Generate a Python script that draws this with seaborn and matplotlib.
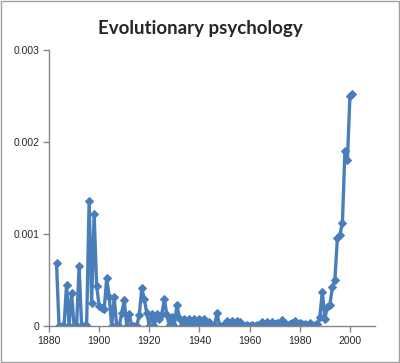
import numpy as np
import pandas as pd
import matplotlib
matplotlib.use("Agg")
import matplotlib.pyplot as plt
import seaborn as sns
from matplotlib.patches import Rectangle

# yearly relative frequency
years = list(range(1883, 2002))
freq = [
    # 1883-1899
    0.00068, 0, 0, 0, 0.00045, 0, 0.00036, 0, 0, 0.00065,
    0, 0, 0, 0.00136, 0.00025, 0.00122, 0.00043,
    # 1900-1919
    0.00022, 0.00020, 0.00018, 0.00052, 0.00032, 0, 0.00031, 0, 0, 0.00014,
    0.00028, 0, 0.00013, 0, 0, 0, 0.00012, 0.00041, 0.00029, 0.00014,
    # 1920-1939
    0, 0.00013, 0, 0.00013, 0.00008, 0.00013, 0.00029, 0.00012, 0, 0.00010,
    0, 0.00023, 0.00009, 0, 0.00008, 0, 0.00008, 0, 0.00008, 0,
    # 1940-1959
    0.00008, 0, 0.00008, 0, 0.00004, 0, 0, 0.00014, 0, 0,
    0.00002, 0.00005, 0.00002, 0.00005, 0.00002, 0.00005, 0.00004, 0.00001, 0, 0.00001,
    # 1960-1979
    0, 0.00001, 0, 0.00001, 0.00001, 0.00004, 0.00002, 0.00004, 0.00002, 0.00004,
    0.00002, 0.00003, 0.00003, 0.00006, 0.00003, 0.00001, 0.00002, 0.00003, 0.00005, 0.00002,
    # 1980-2001
    0.00003, 0.00002, 0.00002, 0.00001, 0.00003, 0.00001, 0.00001, 0.00002, 0.00010, 0.00037,
    0.00008, 0.00021, 0.00023, 0.00042, 0.00050, 0.00096, 0.00099, 0.00112, 0.00190, 0.00180,
    0.00250, 0.00252,
]
xticks = [1880, 1900, 1920, 1940, 1960, 1980, 2000]
yticks = [0, 0.001, 0.002, 0.003]
ytick_labels = ["0", "0.001", "0.002", "0.003"]

df = pd.DataFrame({"year": years, "freq": freq})

sns.set_theme(style="white")
plt.rcParams["font.family"] = ["Liberation Sans", "DejaVu Sans"]

fig = plt.figure(figsize=(4.0, 3.63), dpi=100)
ax = fig.add_axes([0.1225, 0.102, 0.815, 0.760])

sns.lineplot(data=df, x="year", y="freq", ax=ax, color="#4a7ebb",
             linewidth=2.4, marker="D", markersize=4.5,
             markeredgecolor="#4a7ebb", markerfacecolor="#4a7ebb")

ax.set_xlim(1880, 2010)
ax.set_ylim(0, 0.003)
ax.set_xticks(xticks)
ax.set_xticklabels([str(t) for t in xticks], fontsize=7.5)
ax.set_yticks(yticks)
ax.set_yticklabels(ytick_labels, fontsize=7.5)
ax.set_xlabel("")
ax.set_ylabel("")

for side in ["top", "right"]:
    ax.spines[side].set_visible(False)
for side in ["left", "bottom"]:
    ax.spines[side].set_color("#868686")
    ax.spines[side].set_linewidth(1.0)
ax.tick_params(axis="both", which="both", direction="out", length=4,
               width=1.0, color="#868686", pad=3, left=True, bottom=True)

fig.text(0.5, 0.922, "Evolutionary psychology", ha="center", va="center",
         fontsize=13.5, fontweight="bold", family=["Lato", "DejaVu Sans"])

fig.patches.append(Rectangle((0.002, 0.002), 0.995, 0.995, transform=fig.transFigure,
                             fill=False, edgecolor="#a0a0a0", linewidth=1.0))

fig.savefig("out.png", dpi=100)
